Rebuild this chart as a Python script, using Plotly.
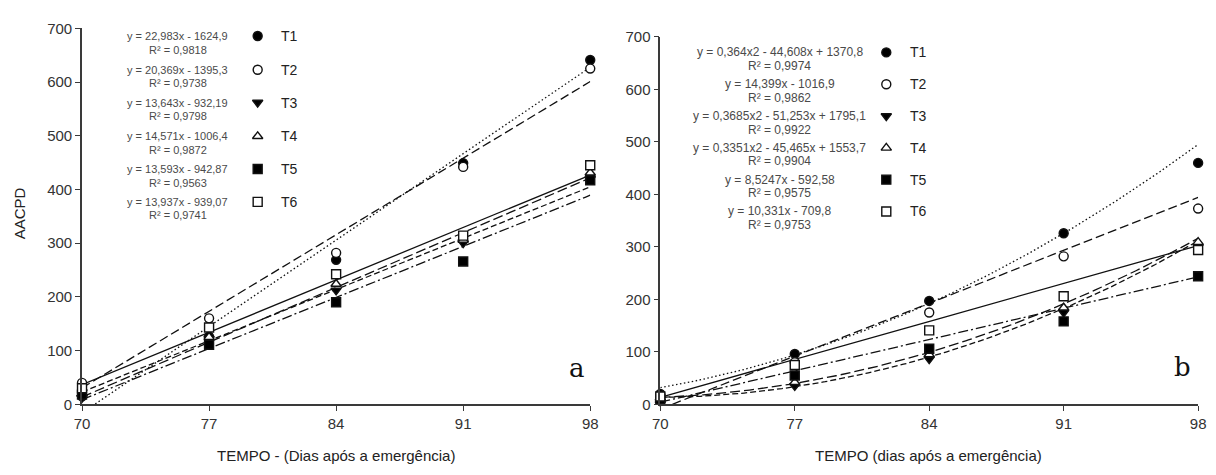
import numpy as np
import plotly.graph_objects as go

# Sampling days (dias após a emergência)
days = [70, 77, 84, 91, 98]
treatments = ["T1", "T2", "T3", "T4", "T5", "T6"]

# Panel a – observed AACPD per treatment
a_t1 = [15, 126, 269, 449, 641]
a_t2 = [40, 160, 282, 442, 625]
a_t3 = [12, 122, 212, 300, 420]
a_t4 = [20, 125, 224, 306, 431]
a_t5 = [18, 111, 190, 266, 417]
a_t6 = [30, 143, 242, 314, 445]

# Panel b – observed AACPD per treatment
b_t1 = [20, 96, 197, 326, 460]
b_t2 = [15, 80, 175, 282, 373]
b_t3 = [5, 35, 86, 175, 300]
b_t4 = [8, 42, 95, 184, 309]
b_t5 = [10, 55, 106, 158, 244]
b_t6 = [15, 75, 141, 206, 294]

# Fitted regression coefficients (highest power first)
fit_a = [
    [22.983, -1624.9],
    [20.369, -1395.3],
    [13.643, -932.19],
    [14.571, -1006.4],
    [13.593, -942.87],
    [13.937, -939.07],
]
fit_b = [
    [0.364, -44.608, 1370.8],
    [14.399, -1016.9],
    [0.3685, -51.253, 1795.1],
    [0.3351, -45.465, 1553.7],
    [8.5247, -592.58],
    [10.331, -709.8],
]

# Equation labels
eq_a = [
    "y = 22,983x - 1624,9",
    "y = 20,369x - 1395,3",
    "y = 13,643x - 932,19",
    "y = 14,571x - 1006,4",
    "y = 13,593x - 942,87",
    "y = 13,937x - 939,07",
]
r2_a = ["0,9818", "0,9738", "0,9798", "0,9872", "0,9563", "0,9741"]
eq_b = [
    "y = 0,364x2 - 44,608x + 1370,8",
    "y = 14,399x - 1016,9",
    "y = 0,3685x2 - 51,253x + 1795,1",
    "y = 0,3351x2 - 45,465x + 1553,7",
    "y = 8,5247x - 592,58",
    "y = 10,331x - 709,8",
]
r2_b = ["0,9974", "0,9862", "0,9922", "0,9904", "0,9575", "0,9753"]

y_ticks = [0, 100, 200, 300, 400, 500, 600, 700]

# Styling per treatment
symbols = ["circle", "circle", "triangle-down", "triangle-up", "square", "square"]
fills = ["black", "white", "black", "white", "black", "white"]
dashes = ["1.5px,2.5px", "9px,4px", "6px,3px", "10px,4px", "10px,3px,2px,3px", "solid"]

INK = "#111111"
AXIS = "#3a3a3a"
W, H = 1216, 475

fig = go.Figure()


def add_panel(data, fits, xa, ya):
    xs = np.linspace(days[0], days[-1], 200)
    for i, coef in enumerate(fits):
        fig.add_trace(go.Scatter(
            x=xs, y=np.polyval(coef, xs), mode="lines", xaxis=xa, yaxis=ya,
            line=dict(color=INK, width=1.3, dash=dashes[i]),
            hoverinfo="skip", showlegend=False))
    for i, vals in enumerate(data):
        fig.add_trace(go.Scatter(
            x=days, y=vals, mode="markers", xaxis=xa, yaxis=ya, cliponaxis=False,
            marker=dict(symbol=symbols[i], size=9, color=fills[i],
                        line=dict(color=INK, width=1.4)),
            name=treatments[i], showlegend=False))


add_panel([a_t1, a_t2, a_t3, a_t4, a_t5, a_t6], fit_a, "x", "y")
add_panel([b_t1, b_t2, b_t3, b_t4, b_t5, b_t6], fit_b, "x2", "y2")

# Legend blocks drawn on a full-page pixel-space axis pair
annotations = []


def add_key(px_marker, px_eq, py_rows, eqs, r2s, eq_size):
    for i, py in enumerate(py_rows):
        fig.add_trace(go.Scatter(
            x=[px_marker], y=[py], mode="markers", xaxis="x3", yaxis="y3",
            cliponaxis=False,
            marker=dict(symbol=symbols[i], size=9, color=fills[i],
                        line=dict(color=INK, width=1.4)),
            hoverinfo="skip", showlegend=False))
        annotations.append(dict(x=px_marker + 22, y=py, xref="x3", yref="y3",
                                text=treatments[i], showarrow=False, xanchor="left",
                                font=dict(size=14, color="#222222")))
        annotations.append(dict(x=px_eq, y=py, xref="x3", yref="y3", text=eqs[i],
                                showarrow=False, xanchor="center",
                                font=dict(size=eq_size, color="#4a4a4a")))
        annotations.append(dict(x=px_eq, y=py + 14, xref="x3", yref="y3",
                                text="R² = " + r2s[i], showarrow=False,
                                xanchor="center",
                                font=dict(size=eq_size, color="#4a4a4a")))


add_key(253, 172, [28, 63, 97, 132, 166, 200], eq_a, r2_a, 11)
add_key(890, 782, [45, 78, 111, 144, 177, 210], eq_b, r2_b, 12)

# Axis titles and panel letters
annotations += [
    dict(x=12, y=212, xref="x3", yref="y3", text="AACPD", textangle=-90,
         showarrow=False, font=dict(size=15, color="#222222")),
    dict(x=332, y=463, xref="x3", yref="y3", text="TEMPO - (Dias após a emergência)",
         showarrow=False, font=dict(size=15, color="#222222")),
    dict(x=933, y=463, xref="x3", yref="y3", text="TEMPO (dias após a emergência)",
         showarrow=False, font=dict(size=15, color="#222222")),
    dict(x=577, y=372, xref="x3", yref="y3", text="a", showarrow=False,
         font=dict(size=26, color="#111111", family="DejaVu Serif")),
    dict(x=1190, y=371, xref="x3", yref="y3", text="b", showarrow=False,
         font=dict(size=26, color="#111111", family="DejaVu Serif")),
]

axis_common = dict(showline=True, linecolor=AXIS, linewidth=1.6, ticks="outside",
                   ticklen=5, tickwidth=1.4, tickcolor=AXIS, showgrid=False,
                   zeroline=False, tickfont=dict(size=15, color="#333333"))

fig.update_layout(
    width=W, height=H,
    margin=dict(l=0, r=0, t=0, b=0),
    paper_bgcolor="white", plot_bgcolor="rgba(0,0,0,0)",
    font=dict(family="Liberation Sans, Arial, sans-serif"),
    showlegend=False,
    xaxis=dict(domain=[75 / W, 590 / W], range=[70, 98], tickvals=days, anchor="y",
               **axis_common),
    yaxis=dict(domain=[1 - 410 / H, 1 - 20 / H], range=[0, 700], tickvals=y_ticks,
               anchor="x", **axis_common),
    xaxis2=dict(domain=[661 / W, 1206 / W], range=[70, 98], tickvals=days, anchor="y2",
                **axis_common),
    yaxis2=dict(domain=[1 - 410 / H, 1 - 29 / H], range=[0, 700], tickvals=y_ticks,
                anchor="x2", **axis_common),
    xaxis3=dict(domain=[0, 1], range=[0, W], visible=False, anchor="y3",
                fixedrange=True),
    yaxis3=dict(domain=[0, 1], range=[H, 0], visible=False, anchor="x3",
                fixedrange=True),
    annotations=annotations,
)

fig.write_html("out.html")
